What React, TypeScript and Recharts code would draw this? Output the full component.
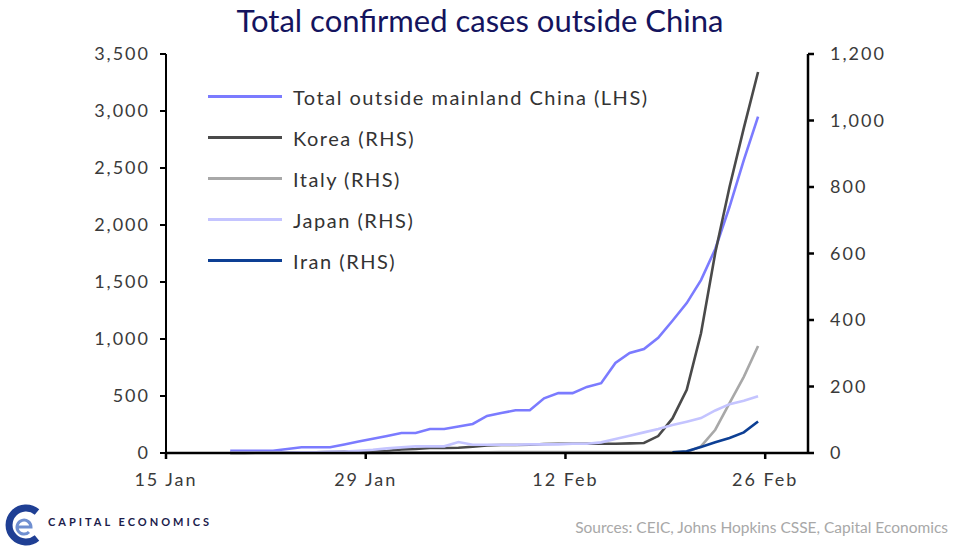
import { Legend, Line, LineChart, XAxis, YAxis } from "recharts";

// daily observations, 19 Jan - 25 Feb 2020
const dates = [
  "19 Jan", "20 Jan", "21 Jan", "22 Jan", "23 Jan", "24 Jan", "25 Jan", "26 Jan", "27 Jan", "28 Jan",
  "29 Jan", "30 Jan", "31 Jan", "1 Feb", "2 Feb", "3 Feb", "4 Feb", "5 Feb", "6 Feb", "7 Feb",
  "8 Feb", "9 Feb", "10 Feb", "11 Feb", "12 Feb", "13 Feb", "14 Feb", "15 Feb", "16 Feb", "17 Feb",
  "18 Feb", "19 Feb", "20 Feb", "21 Feb", "22 Feb", "23 Feb", "24 Feb", "25 Feb",
];

const totalOutside = [
  20, 20, 20, 20, 35, 50, 50, 50, 75, 100,
  125, 150, 175, 175, 210, 210, 232, 255, 325, 350,
  375, 375, 480, 525, 525, 580, 612, 790, 877, 912,
  1010, 1160, 1315, 1517, 1790, 2160, 2570, 2950,
];

const korea = [
  0, 0, 1, 1, 1, 2, 2, 3, 4, 4,
  4, 6, 11, 12, 15, 15, 16, 19, 23, 24,
  24, 25, 27, 28, 28, 28, 28, 28, 29, 30,
  51, 104, 190, 360, 602, 800, 977, 1146,
];

const italy = [
  0, 0, 0, 0, 0, 0, 0, 0, 0, 0,
  0, 0, 2, 2, 2, 2, 2, 2, 2, 3,
  3, 3, 3, 3, 3, 3, 3, 3, 3, 3,
  3, 3, 3, 20, 70, 150, 229, 322,
];

const japan = [
  1, 1, 1, 1, 1, 2, 2, 4, 4, 7,
  10, 14, 17, 20, 20, 20, 33, 25, 25, 25,
  25, 26, 26, 26, 28, 28, 32, 42, 52, 62,
  72, 84, 94, 105, 128, 147, 157, 171,
];

const iran = [
  null, null, null, null, null, null, null, null, null, null,
  null, null, null, null, null, null, null, null, null, null,
  null, null, null, null, null, null, null, null, null, null,
  null, 2, 5, 18, 32, 45, 62, 95,
];

const xTickLabels = ["15 Jan", "29 Jan", "12 Feb", "26 Feb"];
const leftTicks = [0, 500, 1000, 1500, 2000, 2500, 3000, 3500];
const rightTicks = [0, 200, 400, 600, 800, 1000, 1200];
const axisEnd = "29 Feb";

const series = [
  { key: "total", name: "Total outside mainland China (LHS)", color: "#7b7bff", axis: "left" },
  { key: "korea", name: "Korea (RHS)", color: "#4a4a4a", axis: "right" },
  { key: "italy", name: "Italy (RHS)", color: "#a8a8a8", axis: "right" },
  { key: "japan", name: "Japan (RHS)", color: "#c4c4ff", axis: "right" },
  { key: "iran", name: "Iran (RHS)", color: "#0d3f94", axis: "right" },
];

function dayNumber(label: string) {
  const [d, m] = label.split(" ");
  return (m === "Jan" ? 0 : 31) + Number(d) - 15;
}

// Excel-style date axis: each day's point sits in the middle of the day
const chartData = dates.map((date, i) => ({
  x: dayNumber(date) + 0.5,
  total: totalOutside[i],
  korea: korea[i],
  italy: italy[i],
  japan: japan[i],
  iran: iran[i],
}));

const fmt = (v: number) => v.toLocaleString("en-US");
const tickStyle = { fontSize: 18, fill: "#3a3a3a", letterSpacing: 2 };

function LegendBox() {
  return (
    <div>
      {series.map((s) => (
        <div key={s.key} style={{ display: "flex", alignItems: "center", height: 41 }}>
          <span style={{ display: "inline-block", width: 74, height: 3, background: s.color, marginRight: 11 }} />
          <span style={{ fontSize: 20, letterSpacing: 1.5, color: "#333" }}>{s.name}</span>
        </div>
      ))}
    </div>
  );
}

function Logo() {
  return (
    <svg width={40} height={44} viewBox="0 0 40 44">
      <path d="M33 9 A17 17 0 1 0 33 35" fill="none" stroke="#1f3f94" strokeWidth={7} />
      <path d="M14 24 H27 A7 7 0 1 0 25 29" fill="none" stroke="#6f8fd0" strokeWidth={3} />
    </svg>
  );
}

export default function App() {
  const xTicks = xTickLabels.map(dayNumber);
  return (
    <div style={{ position: "absolute", left: 0, top: 0, width: 960, height: 547, background: "#fff", fontFamily: "Lato, sans-serif" }}>
      <div style={{ position: "absolute", top: 1, width: 960, textAlign: "center", fontSize: 31, color: "#14145e" }}>
        Total confirmed cases outside China
      </div>
      <LineChart width={960} height={547} data={chartData} margin={{ top: 54, right: 52, bottom: 54, left: 0 }}>
        <XAxis
          dataKey="x"
          type="number"
          domain={[0, dayNumber(axisEnd)]}
          ticks={xTicks}
          tickFormatter={(v) => xTickLabels[xTicks.indexOf(v)] ?? ""}
          tick={tickStyle}
          tickSize={6}
          tickMargin={14}
          height={40}
          stroke="#000"
          strokeWidth={2.5}
        />
        <YAxis
          yAxisId="left"
          domain={[0, 3500]}
          ticks={leftTicks}
          tickFormatter={fmt}
          tick={tickStyle}
          tickSize={6}
          tickMargin={10}
          width={166}
          stroke="#000"
          strokeWidth={2}
          interval={0}
        />
        <YAxis
          yAxisId="right"
          orientation="right"
          domain={[0, 1200]}
          ticks={rightTicks}
          tickFormatter={fmt}
          tick={{ ...tickStyle, textAnchor: "start" }}
          tickSize={6}
          tickMargin={16}
          width={100}
          stroke="#000"
          strokeWidth={2.5}
          interval={0}
        />
        <Legend
          layout="vertical"
          align="center"
          verticalAlign="middle"
          content={<LegendBox />}
          wrapperStyle={{ top: 76, left: 208, width: 480 }}
        />
        {series.map((s) => (
          <Line
            key={s.key}
            yAxisId={s.axis}
            dataKey={s.key}
            name={s.name}
            stroke={s.color}
            strokeWidth={2.6}
            dot={false}
            isAnimationActive={false}
          />
        ))}
      </LineChart>
      <div style={{ position: "absolute", left: 4, top: 503 }}>
        <Logo />
      </div>
      <div style={{ position: "absolute", left: 48, top: 515, fontSize: 11, fontWeight: 700, letterSpacing: 3, color: "#1c1c4c" }}>
        CAPITAL ECONOMICS
      </div>
      <div style={{ position: "absolute", right: 12, top: 518, fontSize: 15.5, color: "#a8a8a8" }}>
        Sources: CEIC, Johns Hopkins CSSE, Capital Economics
      </div>
    </div>
  );
}
